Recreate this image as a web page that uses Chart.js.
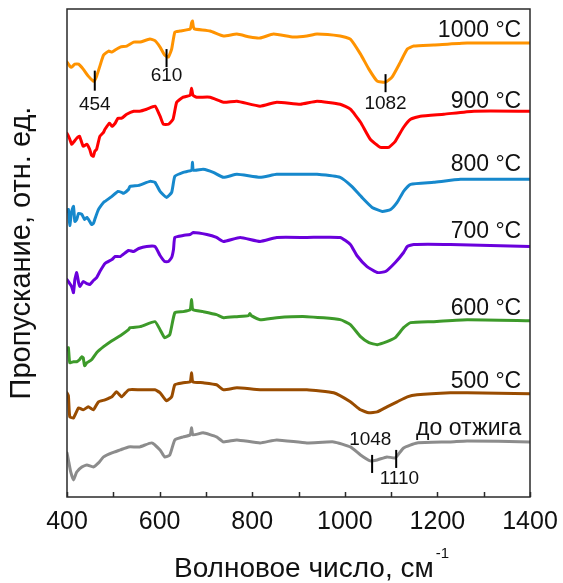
<!DOCTYPE html>
<html><head><meta charset="utf-8">
<script src="https://cdn.jsdelivr.net/npm/chart.js@4.4.1/dist/chart.umd.min.js"></script>
<style>html,body{margin:0;padding:0;background:#fff}canvas{display:block}</style>
</head><body>
<canvas id="c" width="563" height="583"></canvas>
<script>
// ---- data (wavenumber, cm^-1 ; transmittance, rel. units incl. stacking offset) ----
const seriesNames = ['1000 °C','900 °C','800 °C','700 °C','600 °C','500 °C','до отжига'];

const wn1000 = [400,406,410,417,425,435,446,457,460,464,471,479,490,497,504,515,529,544,558,579,590,601,611,619,626,633,644,666,669,671,673,676,709,738,767,795,817,846,889,918,940,990,1012,1034,1052,1070,1088,1102,1120,1135,1149,1192,1264,1400];
const t1000  = [86.8,86,85.8,86.4,86.4,85.4,84,83,83.2,84,86,88.2,89,88.8,89.2,89.8,90,90.8,90.8,91.4,91.1,89.8,88.2,87.8,89.4,92.8,93,93.4,94.6,95,93.8,93.4,93,92,92.4,91.8,91.6,92.4,91.8,92,92.4,92,91.4,88.4,85.4,83,82.8,83.8,86.8,89.4,90,90.2,90.6,90.6];

const wn900 = [400,406,410,414,421,427,435,443,449,453,457,460,464,471,479,482,492,497,504,510,518,529,544,557,572,590,601,608,619,629,637,651,666,669,672,680,709,738,767,817,853,904,940,990,1012,1034,1055,1077,1095,1109,1127,1142,1163,1214,1279,1400];
const t900  = [72.6,71.4,70.4,70.8,71.6,72,70,70.4,69.4,68.2,68,69,69.4,72,72.8,73.4,74.6,74,74.6,75.6,75.6,76.4,77,77,77.4,78,76,74.4,74.4,75.4,78.8,79.8,80.2,81.6,80.2,79.8,79.8,78.8,79,78,78.8,78.4,79,78.4,77.4,74.8,71.4,69.8,69.8,71,73.8,75.4,76,76.4,77,77];

const wn800 = [400,403,406,410,414,417,421,425,432,438,443,449,453,457,460,468,479,482,497,510,518,522,533,536,555,579,590,601,615,626,633,651,669,671,673,694,716,738,767,817,853,918,940,990,1015,1037,1059,1081,1099,1113,1127,1142,1192,1250,1400];
const t800  = [57,57.4,54.2,57,58,55,55.4,56.6,56.4,55.4,55.8,55,54.4,54.6,55.4,57.4,58.8,59,60,61,60.8,60.6,61.4,62,62.2,63,62.8,61,59.8,60.8,64,64.8,65.2,66.8,65.2,65.4,64.8,63.8,64.4,63.8,64.4,64.4,64.4,63.8,62,59.8,57.8,57,57.4,58.8,61,62.4,62.8,63.4,63.4];

const wn700 = [400,406,410,414,417,421,425,428,435,443,449,457,464,471,482,497,504,515,533,544,555,572,590,601,611,619,626,630,633,651,666,673,702,723,738,774,817,853,918,990,1012,1026,1048,1070,1088,1109,1127,1135,1149,1228,1400];
const t700  = [43.4,42.6,42,40.8,43.4,44.8,42.8,42,43,42.6,42.4,43.2,43.8,45,46.6,47.4,48,48,49.2,49,49.6,50,50,48.2,47,47,47.8,49.4,51.8,52.2,52.4,52.8,52.4,51.8,51,51.8,51,51.8,51.8,51.8,50.4,48.2,46,44.8,45,46.8,48.8,50,50.4,50.4,50];

const wn600 = [400,403,406,414,421,427,432,435,438,443,453,464,479,497,515,533,536,558,590,601,611,622,633,651,666,669,672,694,723,738,767,792,795,798,817,853,918,990,1012,1034,1052,1070,1091,1109,1127,1142,1192,1264,1400];
const t600  = [29.4,29.8,26.8,27,27,27.4,28,27.8,26.2,26.8,27.4,28.8,30,31.2,32.2,33.4,33.8,34,35,33.4,31.8,32.4,36.8,37,37.4,39.4,37.4,37,36.4,35.8,36,36.2,36.6,36.2,35.4,35.8,36,35.4,34.4,32,30.8,30.4,31,31.8,33.8,34.8,35,35.4,35.2];

const wn500 = [400,403,406,414,425,435,446,457,468,482,497,507,518,533,558,590,601,615,626,633,651,666,669,672,694,723,738,767,817,918,976,1012,1034,1052,1070,1091,1113,1135,1156,1228,1264,1400];
const t500  = [20.8,20.2,16,15.8,17.8,17.4,18,17.4,19,19.4,20,21,20,21.4,21.4,21.4,20.8,19.2,20,22.4,22.8,23,24.8,23,22.8,22.4,21.4,21.8,21.4,21.4,20.8,19,17.4,16.8,17,18,19,20,20.4,20.8,20.8,20.6];

const wnRaw = [400,403,408,414,421,432,443,457,468,479,497,515,533,557,583,601,611,622,633,651,666,669,672,694,723,738,767,817,853,918,976,1012,1034,1055,1070,1091,1109,1127,1156,1228,1264,1400];
const tRaw  = [8.8,7.4,5,3.4,5,6,6.4,6,6.8,8,8.8,9.4,10,10,10.8,9.4,8,8.4,11.4,12,12.4,13.8,12.4,12.8,12,11,11.4,10.8,11.4,10.8,11,10,8.4,7.2,7.4,8,7.8,9.8,10.8,11,11.2,11];

const xTickValues = [400,600,800,1000,1200,1400];
const peakLabels = ['454','610','1082','1048','1110'];
const peakWavenumbers = [460,615,1088,1059,1111];

// ---- styling / layout (not data) ----
const seriesColors = ['#ff9300','#ff0000','#1688cc','#6a00dc','#3d9a2a','#994c00','#8c8c8c'];
const FONT = "'Liberation Sans', Arial, sans-serif";
const axisColor = '#2a2a2a';
// label anchors in scale units
const seriesLabelY = [91.9,77.7,65.1,51.7,36.4,21.7,12.4];
const seriesLabelX = 1381;
// peak markers: [lineTop, lineBottom, labelCenterY, labelX]
const peakMarkStyle = [
  [85.1,81.1,78.3,460],
  [89.4,85.8,84.0,615],
  [84.4,80.8,78.5,1088],
  [8.4,4.8,11.5,1055],
  [9.4,5.8,3.7,1118]
];

const wnArrays = [wn1000,wn900,wn800,wn700,wn600,wn500,wnRaw];
const tArrays  = [t1000,t900,t800,t700,t600,t500,tRaw];

const datasets = seriesNames.map((name,i)=>({
  label: name,
  data: wnArrays[i].map((w,k)=>({x:w, y:tArrays[i][k]})),
  borderColor: seriesColors[i],
  borderWidth: 3,
  pointRadius: 0,
  tension: 0.15,
  borderJoinStyle: 'round',
  borderCapStyle: 'round',
  fill: false
}));

const decor = {
  id: 'decor',
  afterDatasetsDraw(chart){
    const {ctx, chartArea:a, scales:{x,y}} = chart;
    ctx.save();
    // frame
    ctx.strokeStyle = axisColor; ctx.lineWidth = 1.5;
    ctx.strokeRect(a.left, a.top, a.right - a.left, a.bottom - a.top);
    // inward ticks
    ctx.beginPath();
    x.ticks.forEach(t=>{
      const px = Math.round(x.getPixelForValue(t.value)) + 0.5;
      ctx.moveTo(px, a.bottom); ctx.lineTo(px, a.bottom - 5);
    });
    ctx.stroke();
    // peak markers
    ctx.strokeStyle = '#000'; ctx.lineWidth = 2;
    ctx.fillStyle = '#111';
    ctx.font = '19px ' + FONT;
    ctx.textAlign = 'center'; ctx.textBaseline = 'middle';
    peakLabels.forEach((lab,i)=>{
      const s = peakMarkStyle[i];
      const px = x.getPixelForValue(peakWavenumbers[i]);
      ctx.beginPath();
      ctx.moveTo(px, y.getPixelForValue(s[0]));
      ctx.lineTo(px, y.getPixelForValue(s[1]));
      ctx.stroke();
      ctx.fillText(lab, x.getPixelForValue(s[3]), y.getPixelForValue(s[2]));
    });
    // series labels
    ctx.font = '23px ' + FONT;
    ctx.textAlign = 'right'; ctx.textBaseline = 'alphabetic';
    seriesNames.forEach((n,i)=>{
      ctx.fillText(n, x.getPixelForValue(seriesLabelX), y.getPixelForValue(seriesLabelY[i]));
    });
    // x title with superscript
    const main = 'Волновое число, см', sup = '-1';
    ctx.font = '28px ' + FONT;
    const wMain = ctx.measureText(main).width;
    ctx.font = '15px ' + FONT;
    const wSup = ctx.measureText(sup).width;
    const cx = (a.left + a.right)/2 + 13;
    const x0 = cx - (wMain + wSup + 2)/2;
    ctx.textAlign = 'left';
    ctx.font = '28px ' + FONT;
    ctx.fillText(main, x0, 577);
    ctx.font = '15px ' + FONT;
    ctx.fillText(sup, x0 + wMain + 2, 558);
    ctx.restore();
  }
};

new Chart(document.getElementById('c'), {
  type: 'line',
  data: { datasets },
  options: {
    responsive: false,
    animation: false,
    devicePixelRatio: 1,
    layout: { padding: { top: 9, right: 33, left: 0, bottom: 0 } },
    plugins: { legend: { display: false }, tooltip: { enabled: false } },
    scales: {
      x: {
        type: 'linear', min: 400, max: 1400,
        grid: { display: false, drawTicks: false },
        border: { display: false },
        ticks: {
          stepSize: 100, padding: 10, maxRotation: 0, autoSkip: false,
          color: '#111', font: { family: FONT, size: 25 },
          callback: v => xTickValues.includes(v) ? String(v) : ''
        },
        afterFit: s => { s.height = 86; s.paddingLeft = 0; s.paddingRight = 0; }
      },
      y: {
        type: 'linear', min: 0, max: 97.4,
        grid: { display: false, drawTicks: false },
        border: { display: false },
        ticks: { display: false },
        title: { display: true, text: 'Пропускание, отн. ед.', color: '#111',
                 font: { family: FONT, size: 29 }, padding: { top: 5, bottom: 0 } },
        afterFit: s => { s.width = 67; s.paddingTop = 0; s.paddingBottom = 0; }
      }
    }
  },
  plugins: [decor]
});
</script>
</body></html>
